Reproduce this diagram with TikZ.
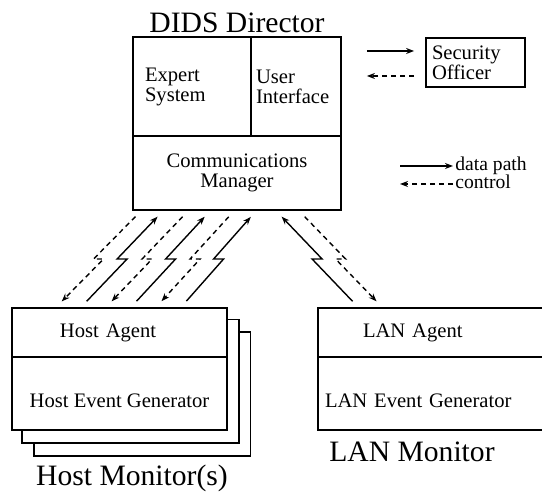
\documentclass[tikz,border=0pt]{standalone}
\usepackage{fontspec}
\setmainfont{Liberation Serif}
\usepackage{tikz}
\usetikzlibrary{arrows.meta,calc,backgrounds}

\begin{document}
\begin{tikzpicture}[x=0.5pt,y=-0.5pt,>={Stealth[length=4pt,width=3pt]},
		box/.style={draw,line width=0.9pt,fill=white,inner ysep=0pt,font=\fontsize{10.3}{10}\selectfont},
		maintitle/.style={font=\fontsize{14.8}{15}\selectfont},
		legendtext/.style={font=\fontsize{9.8}{10}\selectfont,inner sep=0pt,text height=6.5pt,text depth=1.5pt},
		datapath/.style={->,line width=0.7pt},
		ctrlpath/.style={->,line width=0.7pt,dash pattern=on 2.5pt off 2pt},
		bolt/.style={to path={-- ($(\tikztostart)!.5!(\tikztotarget)+(#1,0)$) -- ($(\tikztostart)!.5!(\tikztotarget)-(#1,0)$) -- (\tikztotarget)}}]
	\useasboundingbox (0,0) rectangle (542,496);
	\node[box,minimum height=49.5pt,text width=47pt,inner xsep=6pt,align=left] (expert) at (192,86.5) {Expert\\System};
	\node[box,minimum height=49.5pt,text width=40pt,inner xsep=2.5pt,align=left] (ui) at (296,86.5) {User\\Interface};
	\node[box,minimum width=104pt,minimum height=37pt,align=center] (comm) at (237,173) {Communications\\Manager};
	\node[box,minimum height=24.5pt,text width=43.5pt,inner xsep=3pt,align=left] (officer) at (475.5,62.5) {Security\\Officer};
	\node[maintitle] (didstitle) at (237,23) {DIDS Director};

	\node[box,minimum height=24.5pt,text width=59.5pt,inner xsep=24pt,align=left] (hostagent) at (119.5,332.5) {Host Agent};
	\node[box,minimum width=107.5pt,minimum height=36.5pt,text height=14pt,text depth=0pt,align=center] (hostgen) at (119.5,393.5) {Host Event Generator};
	\node[maintitle] (hosttitle) at (132,478) {Host Monitor(s)};
	\begin{scope}[on background layer]
		\foreach \s in {2,1}
			\draw[line width=0.9pt,fill=white] ($(hostagent.north west)+(\s*11.25,\s*12.5)$) rectangle ($(hostgen.south east)+(\s*11.25,\s*12.5)$);
	\end{scope}

	\node[box,minimum height=24.5pt,text width=71pt,inner xsep=22.5pt,align=left] (lanagent) at (434,332.5) {LAN Agent};
	\node[box,minimum height=36.5pt,text width=109pt,inner xsep=3.5pt,text height=14pt,text depth=0pt,align=left] (langen) at (434,393.5) {LAN Event Generator};
	\node[maintitle] (lantitle) at (412,452) {LAN Monitor};

	\coordinate (od) at ([yshift=5.75pt]officer.west);
	\coordinate (oc) at ([yshift=-6.75pt]officer.west);
	\draw[datapath,shorten <=12.5pt,shorten >=5.5pt] (od -| ui.east) -- (od);
	\draw[ctrlpath,shorten <=5.5pt,shorten >=12.5pt] (oc) -- (oc -| ui.east);

	\node[legendtext,anchor=west] (dpath) at (455,166) {data path};
	\node[legendtext,anchor=west] (ctl) at (455,184) {control};
	\draw[datapath] ([xshift=-27.5pt]dpath.west) -- ([xshift=-1pt]dpath.west);
	\draw[ctrlpath] ([xshift=-1pt]ctl.west) -- ([xshift=-27.5pt]ctl.west);

	\foreach \t/\b [count=\i] in {9/45,56/95,102/145} {
		\coordinate (cd\i) at ($(comm.south west)+(\t,0)$);
		\coordinate (hd\i) at ($(hostagent.north west)+(\b,0)$);
		\coordinate (cs\i) at ($(comm.south west)+(\t+22,0)$);
		\coordinate (hs\i) at ($(hostagent.north west)+(\b+25,0)$);
		\draw[ctrlpath,bolt=-5,shorten <=4pt,shorten >=4pt] (cd\i) to (hd\i);
		\draw[datapath,bolt=5,shorten <=4pt,shorten >=4pt] (hs\i) to (cs\i);
	}
	\coordinate (cl1) at ($(comm.south west)+(144,0)$);
	\coordinate (ll1) at ($(lanagent.north west)+(41,0)$);
	\coordinate (cl2) at ($(comm.south west)+(167,0)$);
	\coordinate (ll2) at ($(lanagent.north west)+(65,0)$);
	\draw[datapath,bolt=-5,shorten <=4pt,shorten >=4pt] (ll1) to (cl1);
	\draw[ctrlpath,bolt=5,shorten <=4pt,shorten >=4pt] (cl2) to (ll2);
\end{tikzpicture}
\end{document}
